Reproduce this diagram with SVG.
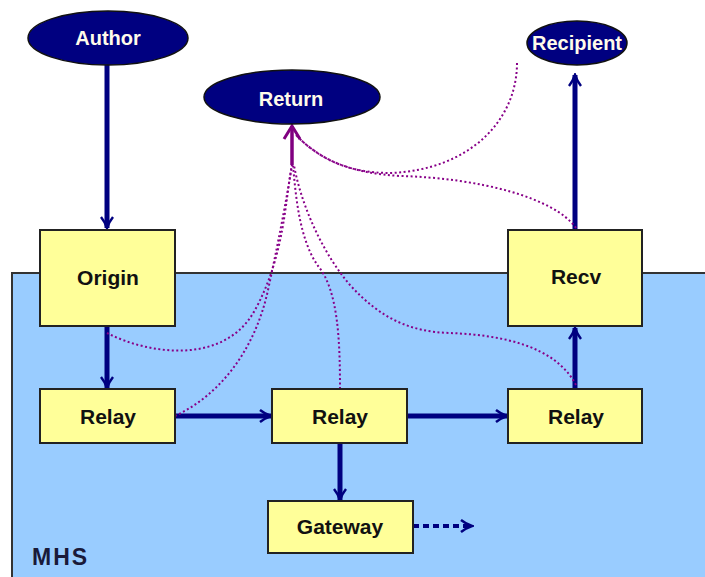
<svg xmlns="http://www.w3.org/2000/svg" width="705" height="577" viewBox="0 0 705 577">
<style>
.box{fill:#FFFF99;stroke:#222;stroke-width:2}
.ell{fill:#000080;stroke:#111;stroke-width:1.5}
.lbl{font-family:"Liberation Sans",Arial,sans-serif;font-size:21px;font-weight:bold;text-anchor:middle;fill:#111}
.elbl{font-family:"Liberation Sans",Arial,sans-serif;font-size:20px;font-weight:bold;text-anchor:middle;fill:#FFFBEA}
.flow{fill:none;stroke:#000080;stroke-width:5}
.ret{fill:none;stroke:#880088;stroke-width:2;stroke-dasharray:2 2.5}
</style>
<defs>
<marker id="ah" viewBox="0 0 14 14" refX="12" refY="7" markerWidth="14" markerHeight="14" markerUnits="userSpaceOnUse" orient="auto">
<path d="M1,1 Q6,5 12,7 Q6,9 1,13" fill="none" stroke="#000080" stroke-width="2.5"/>
</marker>
<marker id="ph" viewBox="0 0 20 20" refX="18" refY="10" markerWidth="20" markerHeight="20" markerUnits="userSpaceOnUse" orient="auto">
<path d="M5,2 L18,10 L5,18" fill="none" stroke="#800080" stroke-width="3"/>
</marker>
</defs>
<rect id="mhs" x="12" y="273" width="700" height="310" fill="#99CCFF" stroke="#333" stroke-width="2"/>
<text x="32" y="565" font-family="Liberation Sans,Arial,sans-serif" font-size="23" font-weight="bold" letter-spacing="2" fill="#1a1a3a">MHS</text>
<g id="connectors">
<line class="flow" x1="107" y1="65" x2="107" y2="228" marker-end="url(#ah)"/>
<line class="flow" x1="107" y1="326" x2="107" y2="388" marker-end="url(#ah)"/>
<line class="flow" x1="175" y1="416" x2="271" y2="416" marker-end="url(#ah)"/>
<line class="flow" x1="407" y1="416" x2="507" y2="416" marker-end="url(#ah)"/>
<line class="flow" x1="340" y1="443" x2="340" y2="500" marker-end="url(#ah)"/>
<line class="flow" x1="575" y1="389" x2="575" y2="328" marker-end="url(#ah)"/>
<line class="flow" x1="575" y1="230" x2="575" y2="75" marker-end="url(#ah)"/>
<line x1="413" y1="526" x2="472" y2="526" fill="none" stroke="#000080" stroke-width="4" stroke-dasharray="6 4" marker-end="url(#ah)"/>
<path class="ret" d="M107,333 C150,355 225,365 255,310 S285,200 292,165"/>
<path class="ret" d="M175,416 C220,395 255,350 268,290 S288,190 292,165"/>
<path class="ret" d="M340,389 C340,340 338,290 318,266 C300,240 296,200 293,165"/>
<path class="ret" d="M576,385 C555,345 500,335 450,333 C410,332 380,318 350,285 C320,250 300,200 294,165"/>
<path class="ret" d="M576,228 C555,198 480,178 400,176 C350,173 320,160 296,135"/>
<path class="ret" d="M517,63 C517,120 470,170 390,173 C350,173 320,160 296,135"/>
<line x1="292" y1="165" x2="292" y2="126" stroke="#800080" stroke-width="3.5" marker-end="url(#ph)"/>
</g>
<g id="author"><ellipse class="ell" cx="108" cy="38" rx="80" ry="27"/><text class="elbl" x="108" y="45">Author</text></g>
<g id="return"><ellipse class="ell" cx="292" cy="97" rx="88" ry="27"/><text class="elbl" x="291" y="106">Return</text></g>
<g id="recipient"><ellipse class="ell" cx="577" cy="43" rx="50" ry="22"/><text class="elbl" x="577" y="50">Recipient</text></g>
<g id="origin"><rect class="box" x="40" y="230" width="135" height="96"/><text class="lbl" x="108" y="285">Origin</text></g>
<g id="recv"><rect class="box" x="508" y="230" width="134" height="96"/><text class="lbl" x="576" y="284">Recv</text></g>
<g id="relay1"><rect class="box" x="40" y="389" width="135" height="54"/><text class="lbl" x="108" y="424">Relay</text></g>
<g id="relay2"><rect class="box" x="272" y="389" width="135" height="54"/><text class="lbl" x="340" y="424">Relay</text></g>
<g id="relay3"><rect class="box" x="508" y="389" width="134" height="54"/><text class="lbl" x="576" y="424">Relay</text></g>
<g id="gateway"><rect class="box" x="268" y="501" width="145" height="52"/><text class="lbl" x="340" y="534">Gateway</text></g>
</svg>
